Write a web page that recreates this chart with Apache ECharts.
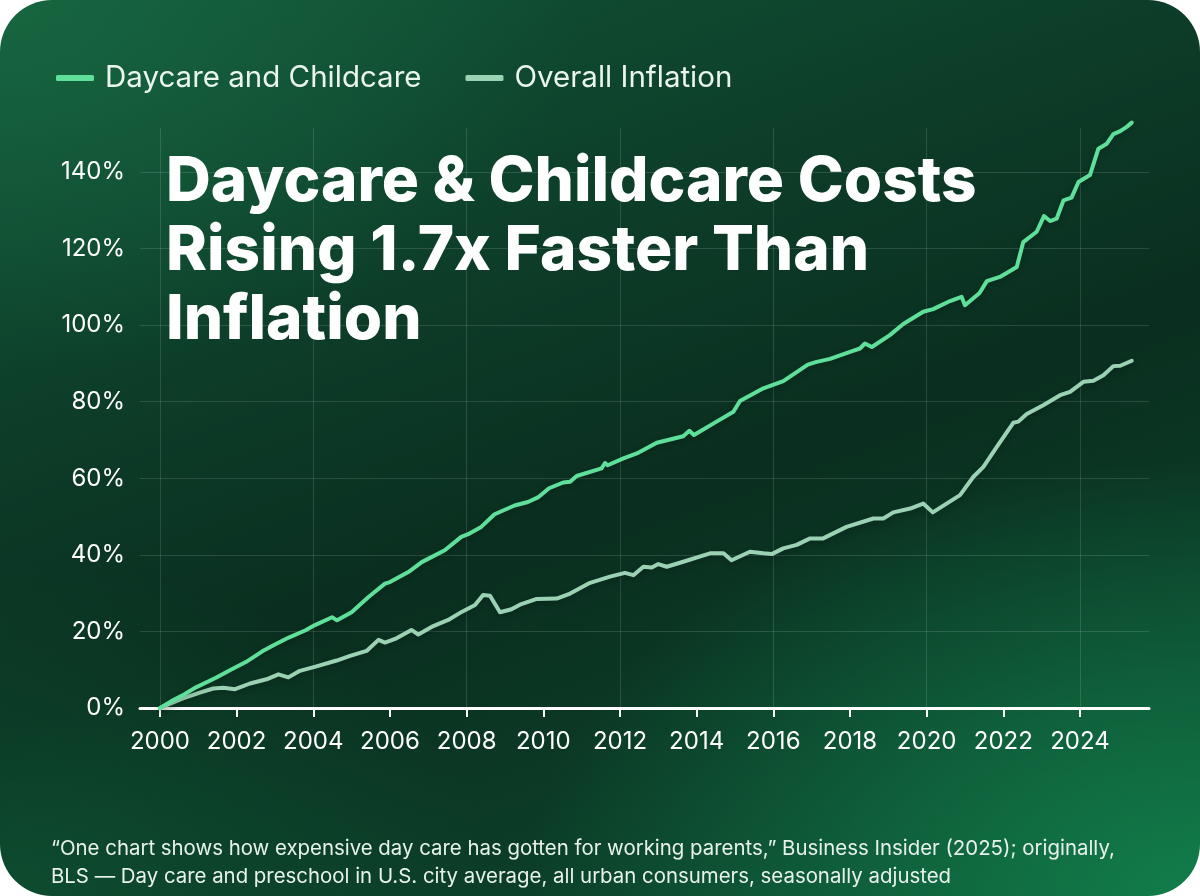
<!DOCTYPE html>
<html>
<head>
<meta charset="utf-8">
<script src="https://cdn.jsdelivr.net/npm/echarts@6/dist/echarts.min.js"></script>
<style>
  html, body { margin: 0; padding: 0; background: #ffffff; }
  #card {
    position: absolute; left: 0; top: 0; width: 1200px; height: 896px;
    border-radius: 52px; overflow: hidden;
    background:
      radial-gradient(ellipse 75% 65% at 100% 100%, rgba(18,128,76,0.95), rgba(18,128,76,0) 75%),
      radial-gradient(ellipse 65% 55% at 0% 0%, rgba(24,104,66,0.85), rgba(24,104,66,0) 75%),
      radial-gradient(ellipse 55% 50% at 0% 100%, rgba(14,82,50,0.8), rgba(14,82,50,0) 75%),
      linear-gradient(160deg, #115536 0%, #0c3826 40%, #0a2e1f 55%, #0d4a2f 100%);
  }
  #chart { width: 1200px; height: 896px; }
</style>
</head>
<body>
<div id="card"><div id="chart"></div></div>
<script>
// ---- data (percent change since Jan 2000) ----
const dayYears = [2000.0,2000.3,2000.59,2000.94,2001.46,2001.85,2002.24,2002.67,2003.0,2003.36,2003.8,2004.03,2004.49,2004.62,2005.0,2005.44,2005.87,2006.0,2006.48,2006.83,2007.43,2007.86,2008.04,2008.38,2008.73,2009.25,2009.6,2009.86,2010.15,2010.52,2010.7,2010.87,2011.52,2011.61,2011.68,2012.09,2012.44,2012.96,2013.65,2013.81,2013.93,2014.52,2014.96,2015.13,2015.74,2016.26,2016.9,2017.13,2017.48,2018.0,2018.26,2018.39,2018.57,2019.04,2019.39,2019.91,2020.17,2020.61,2020.91,2021.0,2021.38,2021.57,2021.91,2022.22,2022.35,2022.52,2022.87,2023.06,2023.22,2023.39,2023.57,2023.78,2023.96,2024.26,2024.48,2024.7,2024.87,2025.05,2025.22,2025.35];
const dayValues = [0,1.8,3.3,5.4,7.9,10.0,12.0,14.8,16.6,18.4,20.3,21.6,23.7,22.9,25.0,29.0,32.5,32.9,35.5,38.1,41.2,44.7,45.4,47.3,50.6,52.9,53.8,55.0,57.4,58.9,59.1,60.6,62.6,64.0,63.4,65.2,66.5,69.3,71.0,72.4,71.3,74.8,77.4,80.2,83.5,85.4,89.7,90.4,91.2,93.0,93.9,95.2,94.3,97.4,100.3,103.5,104.2,106.3,107.4,105.2,108.4,111.5,112.6,114.4,115.2,121.7,124.4,128.5,127.2,127.8,132.6,133.3,137.4,139.2,146.1,147.4,149.9,150.7,151.8,152.9];

const inflYears = [2000.0,2000.6,2001.04,2001.39,2001.65,2001.96,2002.35,2002.78,2003.09,2003.35,2003.65,2004.06,2004.61,2004.96,2005.39,2005.7,2005.87,2006.17,2006.56,2006.74,2007.13,2007.52,2007.87,2008.22,2008.43,2008.61,2008.87,2009.17,2009.39,2009.83,2010.35,2010.7,2011.22,2011.74,2012.13,2012.35,2012.61,2012.83,2013.0,2013.22,2013.65,2014.35,2014.7,2014.91,2015.39,2015.74,2015.96,2016.26,2016.61,2016.96,2017.3,2017.91,2018.61,2018.87,2019.13,2019.57,2019.91,2020.16,2020.52,2020.87,2021.22,2021.48,2021.83,2022.26,2022.39,2022.61,2023.04,2023.48,2023.74,2024.09,2024.35,2024.61,2024.87,2025.05,2025.35];
const inflValues = [0,2.5,4.0,5.1,5.3,4.9,6.4,7.5,8.8,8.0,9.7,10.8,12.4,13.6,14.9,17.8,17.1,18.2,20.4,19.2,21.4,23.0,25.1,26.9,29.5,29.3,25.0,25.8,27.0,28.5,28.6,29.9,32.7,34.3,35.3,34.7,36.9,36.7,37.6,36.9,38.2,40.4,40.4,38.6,40.8,40.4,40.2,41.7,42.6,44.3,44.3,47.3,49.5,49.5,51.1,52.1,53.4,51.1,53.4,55.6,60.4,63.0,68.2,74.5,74.8,76.8,79.1,81.7,82.6,85.2,85.5,86.9,89.3,89.4,90.7];

const xTickYears = [2000,2002,2004,2006,2008,2010,2012,2014,2016,2018,2020,2022,2024];
const xGridYears = [2000,2004,2008,2012,2016,2020,2024];
const seriesNames = ['Daycare and Childcare', 'Overall Inflation'];
const titleText = 'Daycare & Childcare Costs\nRising 1.7x Faster Than\nInflation';
const sourceText = '\u201COne chart shows how expensive day care has gotten for working parents,\u201D Business Insider (2025); originally,\nBLS \u2014 Day care and preschool in U.S. city average, all urban consumers, seasonally adjusted';

const FONT = 'Inter, "Noto Sans", sans-serif';
const chart = echarts.init(document.getElementById('chart'), null, { renderer: 'canvas' });

const pair = (xs, ys) => xs.map((x, i) => [x, ys[i]]);

chart.setOption({
  backgroundColor: 'transparent',
  animation: false,
  textStyle: { fontFamily: FONT },
  title: [
    {
      text: titleText,
      left: 161, top: 143,
      textStyle: { color: '#ffffff', fontSize: 62, fontWeight: 800, lineHeight: 69, fontFamily: FONT }
    },
    {
      text: sourceText,
      left: 46, top: 830,
      textStyle: { color: '#e8f2ec', fontSize: 20.4, fontWeight: 400, lineHeight: 28, fontFamily: FONT }
    }
  ],
  legend: {
    left: 51, top: 58,
    itemWidth: 38, itemHeight: 6, itemGap: 44,
    icon: 'roundRect',
    textStyle: { color: '#eaf5ee', fontSize: 29.5, fontFamily: FONT, padding: [0, 0, 0, 6] },
    data: seriesNames
  },
  grid: { left: 140, right: 51, top: 128, bottom: 188, containLabel: false },
  xAxis: {
    type: 'value', min: 1999.48, max: 2025.8,
    axisLine: { show: true, lineStyle: { color: '#ffffff', width: 3 } },
    axisTick: { show: true, length: 9, lineStyle: { color: '#ffffff', width: 2 }, customValues: xTickYears },
    axisLabel: { show: true, customValues: xTickYears, color: '#ffffff', fontSize: 24, margin: 22, formatter: v => String(Math.round(v)) },
    splitLine: { show: false }
  },
  yAxis: {
    type: 'value', min: 0, max: 151.5, interval: 20,
    axisLine: { show: false }, axisTick: { show: false },
    axisLabel: { color: '#ffffff', fontSize: 24, margin: 15, showMaxLabel: false, formatter: v => v + '%' },
    splitLine: { show: true, showMaxLine: false, lineStyle: { color: 'rgba(255,255,255,0.13)', width: 1 } }
  },
  series: [
    {
      name: seriesNames[1], type: 'line', data: pair(inflYears, inflValues),
      showSymbol: false, clip: false, z: 3,
      itemStyle: { color: '#9bd2b4' },
      lineStyle: { color: '#9bd2b4', width: 4, join: 'round', cap: 'round', shadowColor: 'rgba(0,0,0,0.25)', shadowBlur: 6, shadowOffsetY: 2 },
      markLine: {
        silent: true, symbol: 'none', label: { show: false }, z: 1,
        lineStyle: { color: 'rgba(255,255,255,0.13)', width: 1, type: 'solid' },
        data: xGridYears.map(y => ({ xAxis: y }))
      }
    },
    {
      name: seriesNames[0], type: 'line', data: pair(dayYears, dayValues),
      showSymbol: false, clip: false, z: 4,
      itemStyle: { color: '#5fe09a' },
      lineStyle: { color: '#5fe09a', width: 4, join: 'round', cap: 'round', shadowColor: 'rgba(0,0,0,0.25)', shadowBlur: 6, shadowOffsetY: 2 }
    }
  ]
});
</script>
</body>
</html>
